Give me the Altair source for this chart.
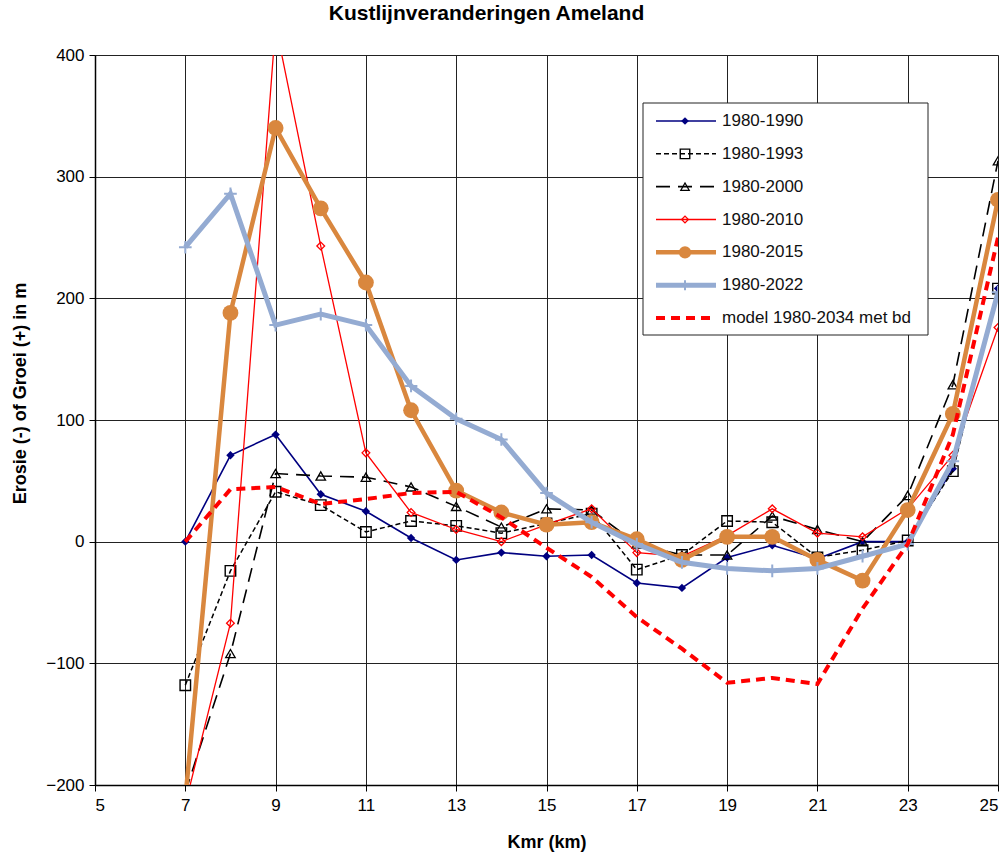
import altair as alt
import pandas as pd

# ---------------- data ----------------
km = [7, 8, 9, 10, 11, 12, 13, 14, 15, 16, 17, 18, 19, 20, 21, 22, 23, 24, 25]

series_names = ["1980-1990", "1980-1993", "1980-2000", "1980-2010",
                "1980-2015", "1980-2022", "model 1980-2034 met bd"]

v1990 = [0, 71, 88, 39, 25, 3, -15, -9, -12, -11, -34, -38, -13, -3, -14, 0, 0, 60, 208]
v1993 = [-118, -24, 41, 30, 8, 17, 13, 7, 15, 23, -23, -11, 17, 16, -13, -7, 1, 58, 208]
v2000 = [-206, -92, 56, 54, 53, 45, 29, 12, 27, 26, -2, -11, -11, 21, 10, 0, 38, 129, 313]
v2010 = [-216, -67, 425, 243, 73, 24, 10, 0, 14, 27, -9, -12, 5, 27, 7, 4, 27, 71, 176]
v2015 = [-212, 188, 340, 274, 213, 108, 42, 24, 14, 16, 2, -15, 4, 4, -15, -32, 26, 105, 281]
v2022 = [242, 286, 178, 187, 178, 128, 101, 84, 40, 16, -2, -17, -22, -24, -22, -12, -2, 66, 205]
vmodel = [0, 43, 45, 31, 35, 40, 41, 20, -5, -29, -62, -88, -116, -112, -117, -55, -2, 88, 250]

series_values = [v1990, v1993, v2000, v2010, v2015, v2022, vmodel]

x_ticks = [5, 7, 9, 11, 13, 15, 17, 19, 21, 23, 25]
y_ticks = [-200, -100, 0, 100, 200, 300, 400]

# ---------------- styles ----------------
PLUS = "M-1,0H1M0,-1V1"
styles = [
    dict(color="#000080", width=1.6, dash=None, interp="linear",
         shape="diamond", size=70, filled=True, pstroke=1, lsize=60),
    dict(color="#000000", width=1.5, dash=[5, 3], interp="linear",
         shape="square", size=110, filled=False, pstroke=1.4, lsize=90),
    dict(color="#000000", width=1.6, dash=[14, 8], interp="linear",
         shape="triangle-up", size=90, filled=False, pstroke=1.3, lsize=70),
    dict(color="#FF0000", width=1.3, dash=None, interp="linear",
         shape="diamond", size=60, filled=False, pstroke=1.3, lsize=45),
    dict(color="#D9873E", width=4.5, dash=None, interp="linear",
         shape="circle", size=250, filled=True, pstroke=1, lsize=150),
    dict(color="#94ABD2", width=5, dash=None, interp="linear",
         shape=PLUS, size=160, filled=False, pstroke=2, lsize=100),
    dict(color="#FF0000", width=4, dash=[9, 6], interp="linear",
         shape=None, size=0, filled=False, pstroke=1, lsize=0),
]

W, H = 903, 730
FONT = "Liberation Sans"

xs = alt.Scale(domain=[5, 25], nice=False, zero=False)
ys = alt.Scale(domain=[-200, 400], nice=False, zero=False)

X = alt.X("km:Q", scale=xs, axis=alt.Axis(
    values=x_ticks, title="Kmr (km)", grid=True, gridColor="#222", gridWidth=1,
    labelFont=FONT, labelFontSize=17, labelColor="#000", labelPadding=6,
    tickSize=6, tickColor="#000", domainColor="#000", domainWidth=1.5,
    titleFont=FONT, titleFontSize=18, titleFontWeight="bold", titleColor="#000",
    titlePadding=20))
Y = alt.Y("value:Q", scale=ys, axis=alt.Axis(
    values=y_ticks, title="Erosie (-) of Groei (+) in m", grid=True,
    gridColor="#222", gridWidth=1,
    labelFont=FONT, labelFontSize=17, labelColor="#000", labelPadding=5,
    tickSize=6, tickColor="#000", domainColor="#000", domainWidth=1.5,
    titleFont=FONT, titleFontSize=18, titleFontWeight="bold", titleColor="#000",
    titleX=-66, titleY=338))

main_layers = []
for name, vals, st in zip(series_names, series_values, styles):
    d = pd.DataFrame({"km": km, "value": vals, "series": name})
    line_kw = dict(color=st["color"], strokeWidth=st["width"],
                   interpolate=st["interp"], clip=True)
    if st["dash"]:
        line_kw["strokeDash"] = st["dash"]
    main_layers.append(alt.Chart(d).mark_line(**line_kw).encode(x=X, y=Y))
    if st["shape"]:
        pt_kw = dict(shape=st["shape"], size=st["size"], filled=st["filled"],
                     color=st["color"], strokeWidth=st["pstroke"], opacity=1,
                     clip=True)
        main_layers.append(alt.Chart(d).mark_point(**pt_kw).encode(x=X, y=Y))

main = alt.layer(*main_layers)

# ---------------- legend ----------------
leg_y = alt.Y("series:N", scale=alt.Scale(type="point", domain=series_names,
                                          range=[66, 263], padding=0), axis=None)
box = alt.Chart(pd.DataFrame({"a": [0]})).mark_rect(
    fill="white", stroke="#222", strokeWidth=1).encode(
    x=alt.value(548), x2=alt.value(833), y=alt.value(48), y2=alt.value(280))
legend_layers = [box]
for name, st in zip(series_names, styles):
    d = pd.DataFrame({"series": [name]})
    rk = dict(color=st["color"], strokeWidth=st["width"])
    if st["dash"]:
        rk["strokeDash"] = st["dash"]
    legend_layers.append(alt.Chart(d).mark_rule(**rk).encode(
        x=alt.value(561), x2=alt.value(621), y=leg_y))
    if st["shape"]:
        legend_layers.append(alt.Chart(d).mark_point(
            shape=st["shape"], size=st["lsize"], filled=st["filled"],
            color=st["color"], strokeWidth=st["pstroke"], opacity=1).encode(
            x=alt.value(590), y=leg_y))
    legend_layers.append(alt.Chart(d).mark_text(
        align="left", baseline="middle", font=FONT, fontSize=17,
        color="#111").encode(x=alt.value(627), y=leg_y, text="series:N"))

legend = alt.layer(*legend_layers)

chart = alt.layer(main, legend).resolve_scale(x="independent", y="independent").properties(
    width=W, height=H,
    title=alt.TitleParams("Kustlijnveranderingen Ameland", font=FONT, fontSize=21,
                          fontWeight="bold", color="#000", anchor="middle",
                          dx=-60, offset=22),
    padding={"left": 95, "top": 55, "right": 10, "bottom": 72},
    autosize="none",
).configure_view(stroke="#999", strokeWidth=1).configure(background="white")

chart.save("out.html", embed_options={"renderer": "svg", "actions": False})
